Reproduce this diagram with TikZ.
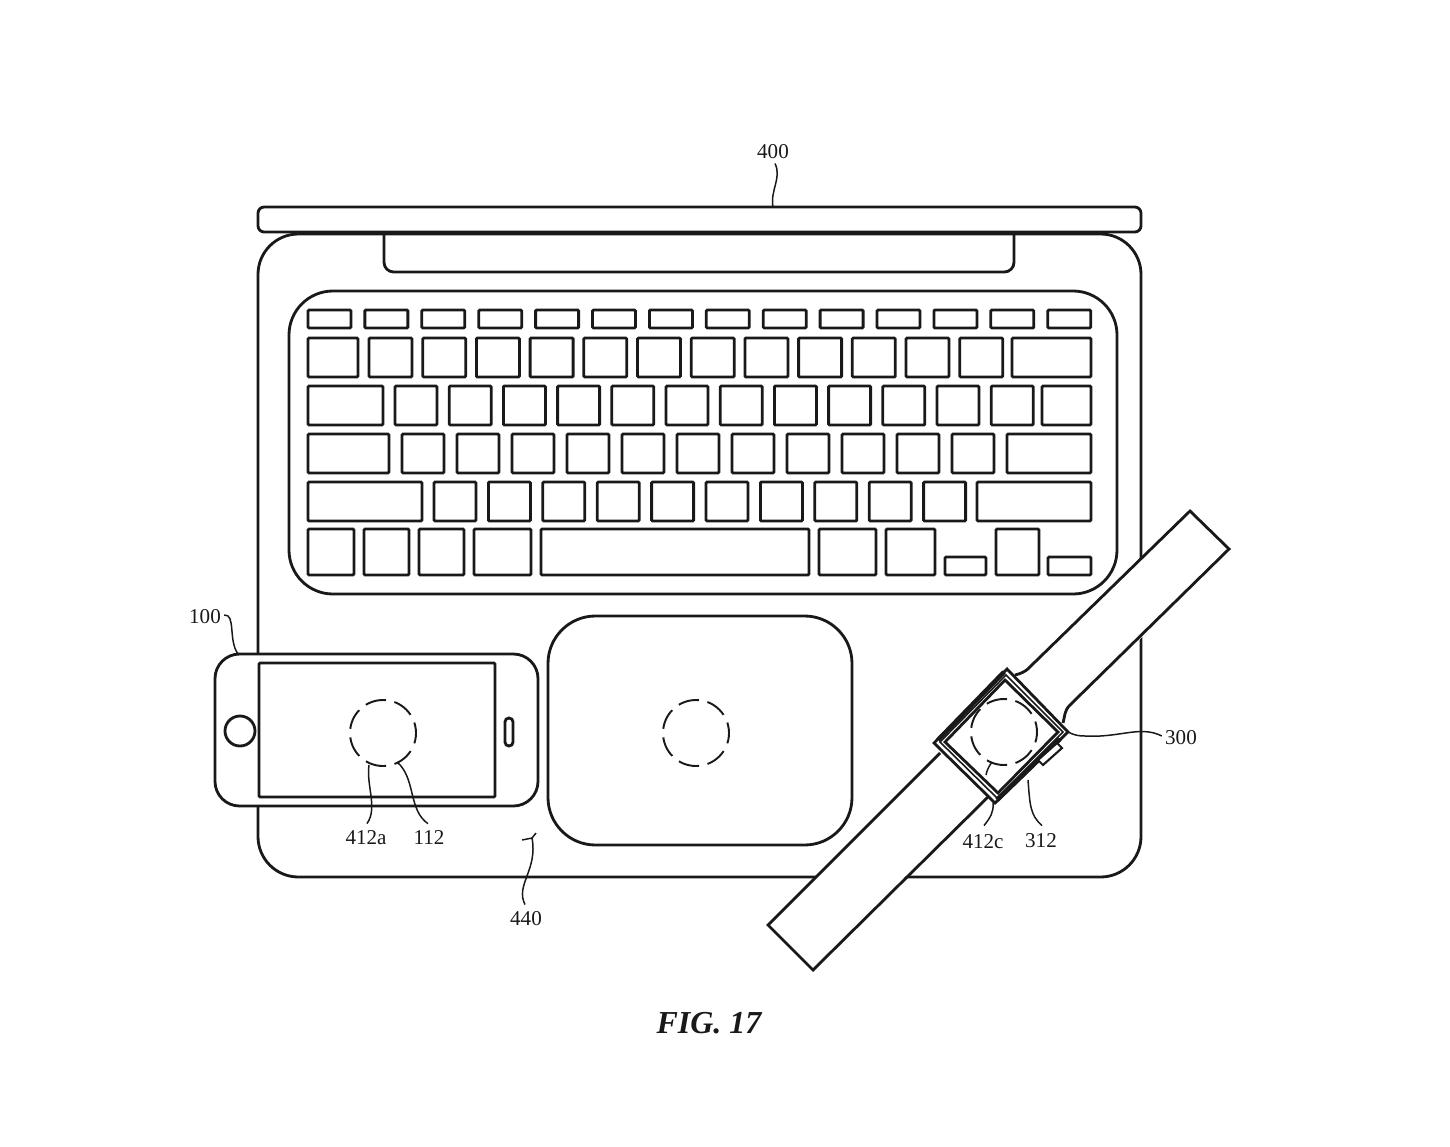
\documentclass[tikz,border=0pt]{standalone}
\usepackage{fontspec}
\setmainfont{Liberation Serif}
\definecolor{ink}{gray}{0.1}
\tikzset{
	outline/.style = {draw=ink, line width=1.6pt},
	keycap/.style = {outline, rounded corners=0.6pt},
	thinline/.style = {draw=ink, line width=0.9pt},
	leader/.style = {draw=ink, line width=0.85pt},
	hidden/.style = {draw=ink, line width=1.1pt, dash pattern=on 0.42cm off 0.172cm, dash phase=0.21cm},
	reflabel/.style = {inner sep=0pt, font=\fontsize{12pt}{14pt}\selectfont, text=ink}
}
\newcommand{\keyrow}[3]{%
	\foreach \xa/\xb in {#3}
		\draw[keycap] (\xa,#1) rectangle (\xb,#2);
}
\begin{document}
\begin{tikzpicture}[x=0.02cm, y=-0.02cm]
		\useasboundingbox (0,0) rectangle (1450,1146);
		
		% laptop
		\draw[outline, rounded corners=3.5pt] (258,207) rectangle (1141,232);
		\draw[outline, rounded corners=23pt] (258,234) rectangle (1141,877);
		\draw[outline, rounded corners=5.5pt] (384,234) -- (384,272) -- (1014,272) -- (1014,234);
		\draw[outline, rounded corners=25pt] (289,291) rectangle (1117,594);
		
		% keys
		\foreach \n in {0,...,13}
			\draw[keycap] ({308+\n*56.9},310) rectangle ({351+\n*56.9},328);
		\keyrow{338}{377}{308/358,1012/1091}
		\foreach \n in {0,...,11}
			\draw[keycap] ({369+\n*53.7},338) rectangle ({412+\n*53.7},377);
		\keyrow{386}{425}{308/383,1042/1091}
		\foreach \n in {0,...,11}
			\draw[keycap] ({395+\n*54.2},386) rectangle ({437+\n*54.2},425);
		\keyrow{434}{473}{308/389,1007/1091}
		\foreach \n in {0,...,10}
			\draw[keycap] ({402+\n*55},434) rectangle ({444+\n*55},473);
		\keyrow{482}{521}{308/422,977/1091}
		\foreach \n in {0,...,9}
			\draw[keycap] ({434+\n*54.4},482) rectangle ({476+\n*54.4},521);
		\keyrow{529}{575}{308/354,364/409,419/464,474/531,541/809,819/876,886/935,996/1039}
		\keyrow{557}{575}{945/986,1048/1091}
		
		% trackpad
		\draw[outline, rounded corners=27pt] (548,616) rectangle (852,845);
		\draw[hidden] (696,733) circle (33);
		
		% phone
		\draw[outline, fill=white, rounded corners=14pt] (215,654) rectangle (538,806);
		\draw[outline, rounded corners=0.6pt] (259,663) rectangle (495,797);
		\draw[outline] (240,731) circle (15);
		\draw[outline, rounded corners=2.2pt] (505,718) rectangle (513,746);
		\draw[hidden] (383,733) circle (33);
		
		% watch band
		\fill[white] (768,925) -- (1190,511) -- (1229,549) -- (813,970) -- cycle;
		\draw[outline] (940,753) -- (768,925) -- (813,970) -- (990,795);
		\draw[outline] (1015,675) .. controls (1028,672) and (1030,666) .. (1036,661) -- (1190,511) -- (1229,549) -- (1070,705) .. controls (1064,711) and (1065,716) .. (1063,723);
		
		% watch case
		\draw[outline, fill=white] (1007,669) -- (1068,732) -- (995,803) -- (934,743) -- cycle;
		\draw[thinline] (1006,675) -- (1063,732) -- (997,798) -- (940,742) -- cycle;
		\draw[outline] (1005,680) -- (1058,732) -- (998,793) -- (945,742) -- cycle;
		\draw[line width=2.6pt, ink] (1004,672) -- (938,740);
		\draw[line width=2.6pt, ink] (1060,739) -- (997,800);
		\draw[outline, line width=1.2pt, fill=white] (1057,743) -- (1062,748) -- (1043,765) -- (1038,760) -- cycle;
		\draw[hidden] (1004,732) circle (33);
		
		% labels
		\node[reflabel] (lid) at (773,152) {400};
		\node[reflabel] (phone) at (205,617) {100};
		\node[reflabel] (sensora) at (366,838) {412a};
		\node[reflabel] (coil) at (429,838) {112};
		\node[reflabel] (base) at (526,919) {440};
		\node[reflabel] (sensorc) at (983,842) {412c};
		\node[reflabel] (watchcoil) at (1041,841) {312};
		\node[reflabel] (watch) at (1181,738) {300};
		
		\coordinate (lidend) at (773,207);
		\coordinate (phoneend) at (238,654);
		\coordinate (sensoraend) at (369,765);
		\coordinate (coilend) at (397,762);
		\coordinate (baseend) at (536,833);
		\coordinate (sensorcend) at (993,803);
		\coordinate (sensorcin) at (992,762);
		\coordinate (watchcoilend) at (1028,780);
		\coordinate (watchend) at (1068,732);
		
		% leaders
		\draw[leader] (lid.south) ++(2,4) .. controls (782,178) and (770,190) .. (lidend);
		\draw[leader] (phone.east) ++(3,-2) .. controls (236,614) and (228,640) .. (phoneend);
		\draw[leader] (sensora.north) ++(1,-7) .. controls (378,808) and (366,785) .. (sensoraend);
		\draw[leader] (coil.north) ++(-1,-7) .. controls (408,810) and (416,778) .. (coilend);
		\draw[leader] (base.north) ++(-1,-7) .. controls (515,885) and (538,870) .. (532,838) -- (522,840);
		\draw[leader] (532,838) -- (baseend);
		\draw[leader] (sensorc.north) ++(1,-9) .. controls (990,818) and (994,812) .. (sensorcend);
		\draw[leader] (986,775) .. controls (987,770) and (989,766) .. (sensorcin);
		\draw[leader] (watchcoil.north) ++(1,-8) .. controls (1030,815) and (1030,805) .. (watchcoilend);
		\draw[leader] (watch.west) ++(-3,-2) .. controls (1140,725) and (1120,738) .. (1085,736) .. controls (1078,736) and (1074,735) .. (watchend);
		
		\node[font=\fontsize{18.2pt}{20pt}\selectfont\bfseries\itshape, text=ink, inner sep=0pt] (figlabel) at (709,1023) {FIG. 17};
		
	\end{tikzpicture}
\end{document}
